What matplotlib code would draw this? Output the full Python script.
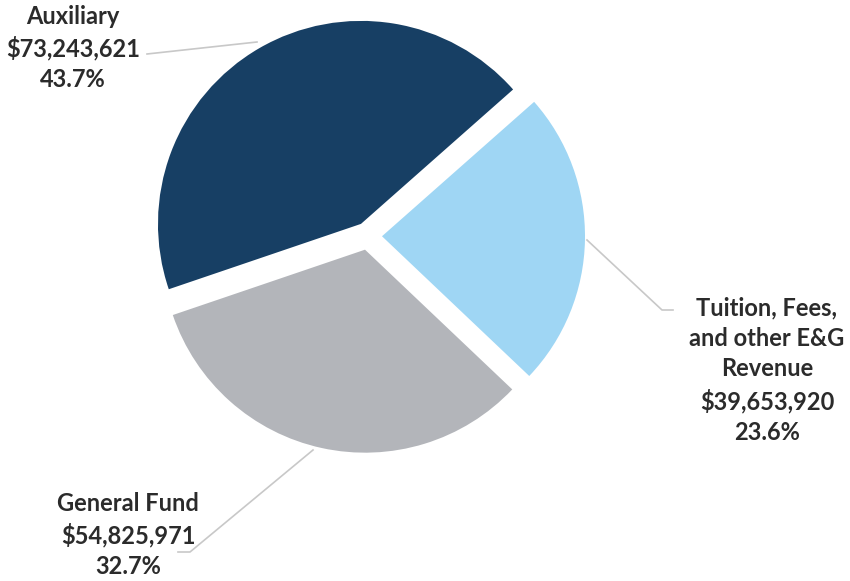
import matplotlib.pyplot as plt

# revenue sources
labels = ["Tuition, Fees,\nand other E&G\nRevenue", "Auxiliary", "General Fund"]
amounts = [39653920, 73243621, 54825971]
pcts = [23.6, 43.7, 32.7]
colors = ["#9fd6f4", "#173f64", "#b3b5ba"]

W, H = 850, 581
fig = plt.figure(figsize=(W / 100, H / 100), dpi=100)
ax = fig.add_axes([0, 0, 1, 1])

cx, cy, r = 368, H - 236, 203
# explode is in data units here (pixels), since radius != 1
ax.pie(pcts, colors=colors, startangle=-43.5, counterclock=True,
       center=(cx, cy), radius=r, explode=[14, 14, 14],
       wedgeprops=dict(linewidth=0), frame=True)
ax.set_xlim(0, W)
ax.set_ylim(0, H)
ax.set_aspect("equal")
ax.axis("off")

txt = dict(fontsize=17, fontweight="bold", color="#2b2b2b", family="Lato",
           ha="center", va="center", linespacing=1.4)

def label(i, x, y):
    s = "{}\n${:,}\n{}%".format(labels[i], amounts[i], pcts[i])
    ax.text(x, H - y, s, **txt)

label(0, 767, 370)
label(1, 73, 48)
label(2, 128, 535)

line = dict(color="#c8c8c8", lw=1.2)
ax.plot([147, 257], [H - 54, H - 42], **line)
ax.plot([587, 662, 673], [H - 240, H - 310, H - 310], **line)
ax.plot([313, 190, 178], [H - 450, H - 552, H - 552], **line)

fig.savefig("out.png", dpi=100, facecolor="white")
